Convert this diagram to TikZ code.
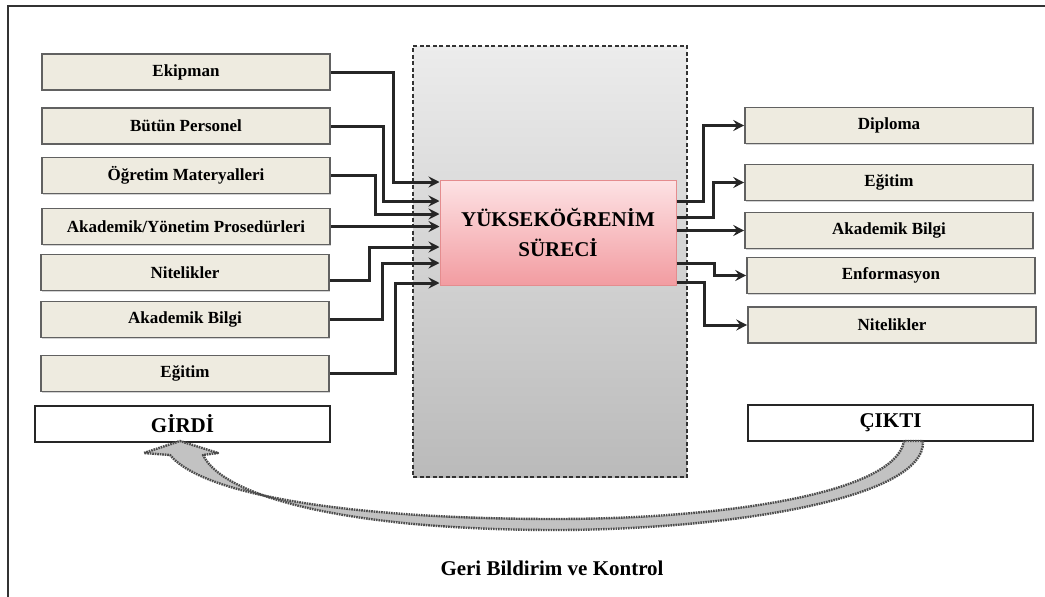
\documentclass[tikz,border=0pt]{standalone}
\usepackage{fontspec}
\setmainfont{Liberation Serif}
\usetikzlibrary{arrows.meta,calc,shadows}
\definecolor{beige}{RGB}{238,235,224}
\definecolor{pinktop}{RGB}{253,226,228}
\definecolor{pinkbot}{RGB}{242,156,161}
\definecolor{pinkline}{RGB}{228,140,142}
\definecolor{procgtop}{RGB}{236,236,236}
\definecolor{procgbot}{RGB}{186,186,186}
\begin{document}
\begin{tikzpicture}[x=1pt,y=-1pt,
  lbox/.style={draw=black!62,line width=1.6pt,fill=beige,minimum width=288pt,
    minimum height=36pt,inner sep=0pt,font=\fontsize{17}{20}\selectfont\bfseries,
    drop shadow={shadow xshift=1pt,shadow yshift=-1pt,opacity=0.35}},
  tbox/.style={draw=black!85,line width=2pt,fill=white,minimum width=295pt,
    minimum height=36pt,inner sep=0pt,font=\fontsize{21}{24}\selectfont\bfseries,
    drop shadow={shadow xshift=1pt,shadow yshift=-1pt,opacity=0.35}},
  conn/.style={draw=black!85,line width=3pt,
    -{Stealth[length=11pt,width=11pt,inset=4pt]}},
  frameline/.style={draw=black!80,line width=1.4pt}]
\useasboundingbox (0,0) rectangle (1045,597);
% frame
\draw[frameline] (8,597) -- (8,6) -- (1045,6);
% process area
\node[draw=black!80,line width=1.6pt,dash pattern=on 4pt off 2.5pt,
  top color=procgtop,bottom color=procgbot,minimum width=274pt,minimum height=431pt,
  inner sep=0pt] (area) at (550,261.5) {};
% left boxes
\node[lbox] (ek) at (186,72) {Ekipman};
\node[lbox] (bp) at (186,126) {Bütün Personel};
\node[lbox] (om) at (186,175.5) {Öğretim Materyalleri};
\node[lbox] (ay) at (186,226.5) {Akademik/Yönetim Prosedürleri};
\node[lbox] (nt) at (185,272.5) {Nitelikler};
\node[lbox] (ab) at (185,319.5) {Akademik Bilgi};
\node[lbox] (eg) at (185,373.5) {Eğitim};
\node[tbox] (girdi) at (182.5,423.5) {GİRDİ};
% right boxes
\node[lbox] (dp) at (889,125.5) {Diploma};
\node[lbox] (eg2) at (889,182.5) {Eğitim};
\node[lbox] (ab2) at (889,230.5) {Akademik Bilgi};
\node[lbox] (en) at (891,275.5) {Enformasyon};
\node[lbox] (nt2) at (892,325) {Nitelikler};
\node[tbox,minimum width=285pt] (cikti) at (890.5,422.5) {ÇIKTI};
% process box
\node[draw=pinkline,line width=1pt,top color=pinktop,bottom color=pinkbot,
  minimum width=236pt,minimum height=105pt,inner sep=0pt,align=center,
  font=\fontsize{21}{30}\selectfont\bfseries] (pk) at (558,232.5)
  {YÜKSEKÖĞRENİM\\SÜRECİ};
% input connectors
\draw[conn] (ek.east) -- ++(63,0) |- ($(pk.west)+(0,-50.5)$);
\draw[conn] (bp.east) -- ++(53,0) |- ($(pk.west)+(0,-31.5)$);
\draw[conn] (om.east) -- ++(45,0) |- ($(pk.west)+(0,-18.5)$);
\draw[conn] (ay.east) -- (pk.west |- ay.east);
\draw[conn] ($(nt.east)+(0,7.5)$) -- ++(40,0) |- ($(pk.west)+(0,14.5)$);
\draw[conn] (ab.east) -- ++(53,0) |- ($(pk.west)+(0,30.5)$);
\draw[conn] (eg.east) -- ++(66,0) |- ($(pk.west)+(0,50.5)$);
% output connectors
\draw[conn] ($(pk.east)+(0,-31.5)$) -- ++(27,0) |- (dp.west);
\draw[conn] ($(pk.east)+(0,-15.5)$) -- ++(37,0) |- (eg2.west);
\draw[conn] (pk.east |- ab2.west) -- (ab2.west);
\draw[conn] ($(pk.east)+(0,30.5)$) -- ++(38,0) |- (en.west);
\draw[conn] ($(pk.east)+(0,49.5)$) -- ++(28,0) |- (nt2.west);
% feedback arrow
\filldraw[fill=black!24,draw=black!70,line width=2.4pt,dash pattern=on 1.6pt off 0.9pt,line join=round]
  (923,441) .. controls (926,500) and (720,530) .. (555,530)
  .. controls (360,530) and (225,500) .. (203,455)
  -- (218,453) -- (180,441) -- (144,453) -- (170,455)
  .. controls (205,497) and (360,519) .. (555,519)
  .. controls (715,519) and (895,495) .. (904,441) -- cycle;
% caption
\node[font=\fontsize{21}{24}\selectfont\bfseries] (cap) at (552,568) {Geri Bildirim ve Kontrol};
\end{tikzpicture}
\end{document}
